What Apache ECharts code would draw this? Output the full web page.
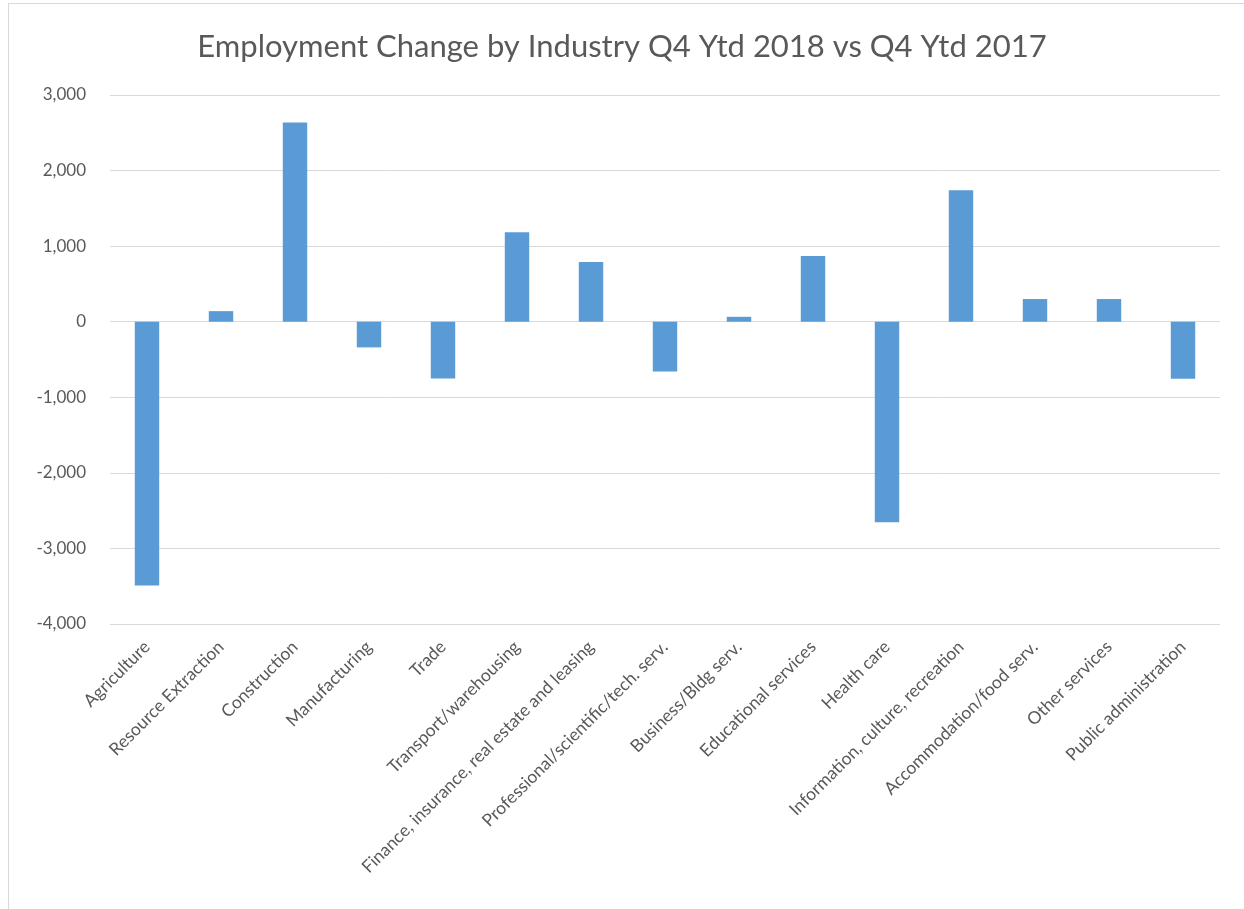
<!DOCTYPE html>
<html>
<head>
<meta charset="utf-8">
<script src="https://cdn.jsdelivr.net/npm/echarts@6/dist/echarts.min.js"></script>
<style>
html,body{margin:0;padding:0;background:#fff;}
#frame{position:absolute;left:8px;top:3px;width:1300px;height:1000px;border:1px solid #d9d9d9;box-sizing:border-box;}
#chart{position:absolute;left:0;top:0;width:1244px;height:909px;}
</style>
</head>
<body>
<div id="frame"></div>
<div id="chart"></div>
<script>
const categories = ["Agriculture","Resource Extraction","Construction","Manufacturing","Trade","Transport/warehousing","Finance, insurance, real estate and leasing","Professional/scientific/tech. serv.","Business/Bldg serv.","Educational services","Health care","Information, culture, recreation","Accommodation/food serv.","Other services","Public administration"];
const values = [-3490, 140, 2635, -340, -750, 1185, 790, -660, 65, 870, -2655, 1740, 300, 300, -755];
const yMin = -4000, yMax = 3000, yStep = 1000;

const chart = echarts.init(document.getElementById('chart'));
chart.setOption({
  animation: false,
  title: {
    text: 'Employment Change by Industry Q4 Ytd 2018 vs Q4 Ytd 2017',
    left: 'center', top: 26,
    textStyle: {fontFamily: 'Lato', fontSize: 31, fontWeight: 'normal', color: '#595959'}
  },
  grid: {left: 110, right: 24, top: 95, bottom: 285, containLabel: false},
  xAxis: {
    type: 'category', data: categories,
    axisLine: {show: false, onZero: false},
    axisTick: {show: false},
    axisLabel: {interval: 0, rotate: 45, margin: 20, fontFamily: 'Lato', fontSize: 17.5, color: '#595959'}
  },
  yAxis: {
    type: 'value', min: yMin, max: yMax, interval: yStep,
    axisLine: {show: false}, axisTick: {show: false},
    splitLine: {lineStyle: {color: '#d9d9d9', width: 1}},
    axisLabel: {margin: 24, fontFamily: 'Lato', fontSize: 17, color: '#595959',
      formatter: v => v.toLocaleString('en-US')}
  },
  series: [{
    type: 'bar', data: values, barWidth: '33%',
    itemStyle: {color: '#5b9bd5'}
  }]
});
</script>
</body>
</html>
